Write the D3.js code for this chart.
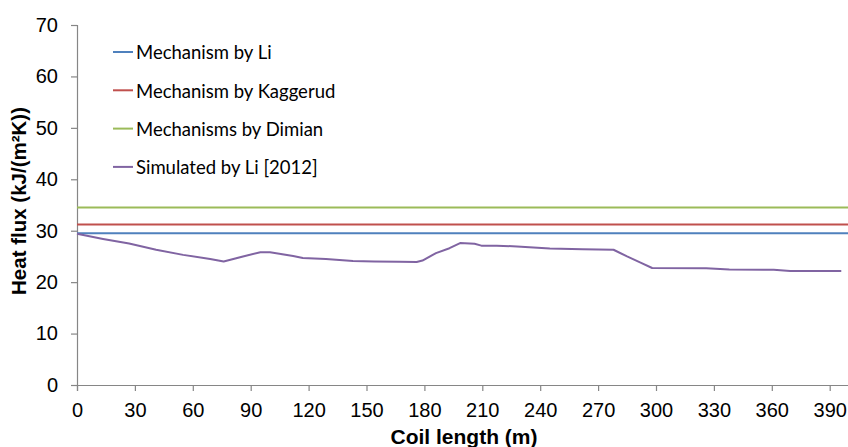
<!DOCTYPE html>
<html>
<head>
<meta charset="utf-8">
<script src="https://cdn.jsdelivr.net/npm/d3@7"></script>
<style>
  html, body { margin: 0; padding: 0; background: #fff; }
  svg { display: block; }
</style>
</head>
<body>
<svg id="chart" width="848" height="447"></svg>
<script>
// Coil length axis ticks (m) and heat flux ticks (kJ/(m²K))
const xTicks = [0, 30, 60, 90, 120, 150, 180, 210, 240, 270, 300, 330, 360, 390];
const yTicks = [0, 10, 20, 30, 40, 50, 60, 70];

// Constant heat flux from each mechanism
const seriesNames = ["Mechanism by Li", "Mechanism by Kaggerud", "Mechanisms by Dimian", "Simulated by Li [2012]"];
const seriesColors = ["#4F81BD", "#C0504D", "#9BBB59", "#8064A2"];
const mechanismValues = [29.5, 31.2, 34.5];

// Simulated profile along the coil
const simLength = [0, 13.5, 27, 41, 55, 69, 76, 86, 95, 100, 112, 117, 129, 143, 154, 167, 176, 179, 186, 193, 198.5, 206, 209.5, 217.5, 228, 245, 262, 278, 285, 292, 298, 326, 338, 361, 369.5, 396];
const simFlux   = [29.4, 28.4, 27.5, 26.3, 25.3, 24.5, 24.0, 25.0, 25.8, 25.8, 25.1, 24.7, 24.5, 24.1, 24.0, 23.95, 23.9, 24.2, 25.65, 26.6, 27.6, 27.45, 27.1, 27.1, 26.95, 26.55, 26.4, 26.3, 25.0, 23.8, 22.75, 22.7, 22.45, 22.4, 22.15, 22.15];

(function () {
  const svg = d3.select("#chart");
  const plotLeft = 77, plotRight = 849, plotTop = 25, plotBottom = 385;
  const x = d3.scaleLinear().domain([0, 400]).range([plotLeft, plotRight]);
  const y = d3.scaleLinear().domain([0, 70]).range([plotBottom, plotTop]);
  const axisColor = "#868686";
  const tickFont = "'Liberation Sans', Arial, sans-serif";

  // Y axis
  const yAxis = svg.append("g").attr("transform", `translate(${plotLeft},0)`)
    .call(d3.axisLeft(y).tickValues(yTicks).tickSize(6).tickPadding(13).tickFormat(d3.format("d")));
  yAxis.select(".domain").attr("stroke", axisColor).attr("stroke-width", 1.2);
  yAxis.selectAll(".tick line").attr("stroke", axisColor).attr("stroke-width", 1.2);
  yAxis.selectAll(".tick text").attr("fill", "#000").style("font-family", tickFont).style("font-size", "20px");

  // X axis
  const xAxis = svg.append("g").attr("transform", `translate(0,${plotBottom})`)
    .call(d3.axisBottom(x).tickValues(xTicks).tickSize(6).tickPadding(12).tickFormat(d3.format("d")));
  xAxis.select(".domain").attr("stroke", axisColor).attr("stroke-width", 1.2);
  xAxis.selectAll(".tick line").attr("stroke", axisColor).attr("stroke-width", 1.2);
  xAxis.selectAll(".tick text").attr("fill", "#000").style("font-family", tickFont).style("font-size", "20px");

  // Axis titles
  svg.append("text")
    .attr("x", 464).attr("y", 444)
    .attr("text-anchor", "middle")
    .style("font-family", tickFont).style("font-size", "21px").style("font-weight", "bold")
    .text("Coil length (m)");

  svg.append("text")
    .attr("transform", "translate(26,201) rotate(-90)")
    .attr("text-anchor", "middle")
    .style("font-family", tickFont).style("font-size", "20.5px").style("font-weight", "bold")
    .text("Heat flux (kJ/(m²K))");

  // Horizontal mechanism lines
  svg.append("g").selectAll("line")
    .data(mechanismValues)
    .join("line")
    .attr("x1", x(0)).attr("x2", x(400))
    .attr("y1", d => y(d)).attr("y2", d => y(d))
    .attr("stroke", (d, i) => seriesColors[i])
    .attr("stroke-width", 2);

  // Simulated profile
  const simData = simLength.map((l, i) => [l, simFlux[i]]);
  svg.append("path")
    .datum(simData)
    .attr("fill", "none")
    .attr("stroke", seriesColors[3])
    .attr("stroke-width", 2)
    .attr("stroke-linejoin", "round")
    .attr("d", d3.line().x(d => x(d[0])).y(d => y(d[1])));

  // Legend
  const legend = svg.append("g").attr("transform", "translate(113,52)");
  const rows = legend.selectAll("g").data(seriesNames).join("g")
    .attr("transform", (d, i) => `translate(0,${i * 38.3})`);
  rows.append("line")
    .attr("x1", 0).attr("x2", 20).attr("y1", 0).attr("y2", 0)
    .attr("stroke", (d, i) => seriesColors[i]).attr("stroke-width", 2);
  rows.append("text")
    .attr("x", 23).attr("y", 0).attr("dy", "0.4em")
    .style("font-family", "Lato, 'Open Sans', sans-serif").style("font-size", "18.5px")
    .attr("fill", "#000")
    .text(d => d);
})();
</script>
</body>
</html>
